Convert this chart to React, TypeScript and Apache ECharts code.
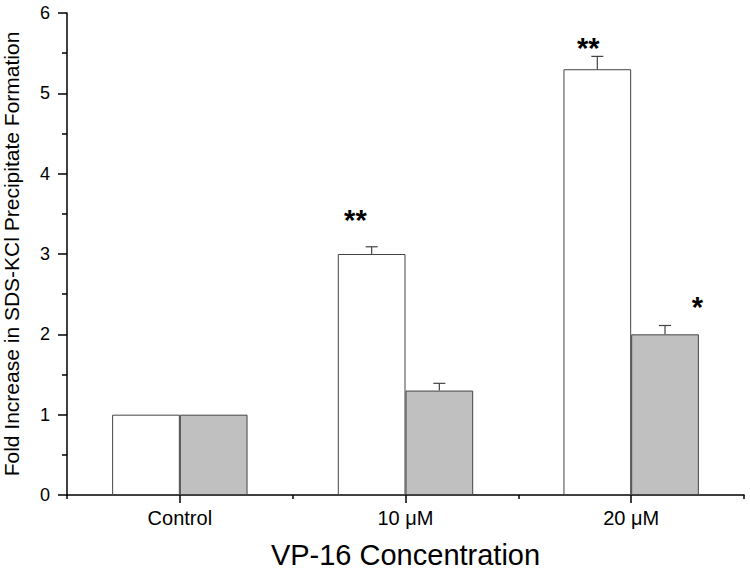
import React, { useEffect, useRef } from "react";
import * as echarts from "echarts";

const categories = ["Control", "10 \u03bcM", "20 \u03bcM"];
const whiteValues = [1, 3.0, 5.3];
const whiteErrors = [0, 0.09, 0.16];
const grayValues = [1, 1.3, 2.0];
const grayErrors = [0, 0.09, 0.11];
const yMin = 0;
const yMax = 6;
const yInterval = 1;
// significance marks: label, category index, y value (data units), offset within band
const starLabels = ["**", "**", "*"];
const starCategory = [1, 2, 2];
const starY = [3.49, 5.63, 2.4];
const starOffset = [-0.222, -0.19, 0.293];

const FONT = "'Liberation Sans', Arial, Helvetica, sans-serif";
const BAR_FRAC = 0.3;

export default function App() {
  const ref = useRef<HTMLDivElement>(null);
  useEffect(() => {
    document.body.style.margin = "0";
    const chart = echarts.init(ref.current!, null, { renderer: "svg" });

    const errData = [
      ...whiteValues.map((v, i) => [i, v, whiteErrors[i], -1]),
      ...grayValues.map((v, i) => [i, v, grayErrors[i], 1]),
    ];
    const starData = starLabels.map((_, i) => [starCategory[i], starY[i], starOffset[i]]);

    const option: any = {
      animation: false,
      backgroundColor: "#ffffff",
      grid: {
        left: 67,
        right: 6,
        top: 13,
        bottom: 74,
        containLabel: false,
        outerBoundsMode: "none",
      },
      xAxis: [
        {
          type: "category",
          data: categories,
          boundaryGap: true,
          axisLine: { show: true, lineStyle: { color: "#000", width: 1.5 } },
          axisTick: { show: true, interval: 0, length: 4, lineStyle: { color: "#000", width: 1.5 } },
          axisLabel: { show: true, interval: 0, margin: 13, color: "#000", fontSize: 20, fontFamily: FONT },
          name: "VP-16 Concentration",
          nameLocation: "middle",
          nameGap: 45,
          nameTextStyle: { color: "#000", fontSize: 29, fontFamily: FONT },
        },
        {
          type: "category",
          data: categories,
          position: "bottom",
          boundaryGap: true,
          axisLine: { show: false },
          axisTick: { show: true, alignWithLabel: true, interval: 0, length: 8, lineStyle: { color: "#000", width: 1.5 } },
          axisLabel: { show: false },
        },
      ],
      yAxis: {
        type: "value",
        min: yMin,
        max: yMax,
        interval: yInterval,
        splitLine: { show: false },
        axisLine: { show: true, lineStyle: { color: "#000", width: 1.5 } },
        axisTick: { show: true, length: 9, lineStyle: { color: "#000", width: 1.5 } },
        minorTick: { show: true, splitNumber: 2, length: 5, lineStyle: { color: "#000", width: 1.5 } },
        axisLabel: { margin: 17, color: "#000", fontSize: 18, fontFamily: FONT },
        name: "Fold Increase in SDS-KCl Precipitate Formation",
        nameLocation: "middle",
        nameGap: 45,
        nameTextStyle: { color: "#000", fontSize: 21, fontFamily: FONT },
      },
      series: [
        {
          type: "bar",
          name: "A",
          data: whiteValues,
          barWidth: BAR_FRAC * 100 + "%",
          barGap: "0%",
          itemStyle: { color: "#ffffff", borderColor: "#444", borderWidth: 1 },
          z: 2,
        },
        {
          type: "bar",
          name: "B",
          data: grayValues,
          barWidth: BAR_FRAC * 100 + "%",
          barGap: "0%",
          itemStyle: { color: "#c0c0c0", borderColor: "#444", borderWidth: 1 },
          z: 2,
        },
        {
          type: "custom",
          name: "err",
          data: errData,
          encode: { x: 0, y: 1 },
          z: 3,
          renderItem: (params: any, api: any) => {
            const ci = api.value(0);
            const v = api.value(1);
            const e = api.value(2);
            const side = api.value(3);
            if (!e) return null;
            const base = api.coord([ci, v]);
            const top = api.coord([ci, v + e]);
            const bw = api.size([1, 0])[0] * BAR_FRAC;
            const x = base[0] + (side * bw) / 2;
            const st = { stroke: "#444", lineWidth: 1.2 };
            return {
              type: "group",
              children: [
                { type: "line", shape: { x1: x, y1: base[1], x2: x, y2: top[1] }, style: st },
                { type: "line", shape: { x1: x - 6, y1: top[1], x2: x + 6, y2: top[1] }, style: st },
              ],
            };
          },
        },
        {
          type: "custom",
          name: "stars",
          data: starData,
          encode: { x: 0, y: 1 },
          z: 4,
          renderItem: (params: any, api: any) => {
            const ci = api.value(0);
            const y = api.value(1);
            const off = api.value(2);
            const p = api.coord([ci, y]);
            const band = api.size([1, 0])[0];
            return {
              type: "text",
              x: p[0] + off * band,
              y: p[1] + 5,
              style: {
                text: starLabels[params.dataIndex],
                fill: "#000",
                fontSize: 29,
                fontWeight: "bold",
                fontFamily: FONT,
                align: "center",
                verticalAlign: "middle",
              },
            };
          },
        },
      ],
    };
    chart.setOption(option);
    return () => chart.dispose();
  }, []);
  return <div ref={ref} style={{ width: 750, height: 569 }} />;
}
